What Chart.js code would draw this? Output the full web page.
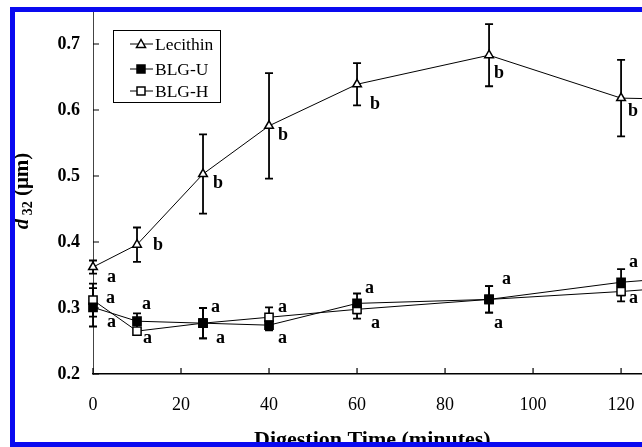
<!DOCTYPE html>
<html>
<head>
<meta charset="utf-8">
<script src="https://cdn.jsdelivr.net/npm/chart.js@4"></script>
<style>
  html, body { margin: 0; padding: 0; background: #fff; width: 642px; height: 447px; overflow: hidden; }
  #wrap { position: absolute; left: 0; top: 0; width: 800px; height: 447px; }
  .edge { position: absolute; background: #0a0af0; }
</style>
</head>
<body>
<div id="wrap"><canvas id="chart"></canvas></div>
<div class="edge" style="left:10px; top:7px; width:640px; height:5px"></div>
<div class="edge" style="left:10px; top:7px; width:5px; height:440px"></div>
<div class="edge" style="left:10px; top:442px; width:640px; height:5px"></div>
<script>
'use strict'

// digestion time (minutes)
const times = [0, 10, 25, 40, 60, 90, 120, 180]

const lecithinMean = [0.362, 0.396, 0.503, 0.576, 0.639, 0.683, 0.618, 0.61]
const lecithinSd = [0.010, 0.026, 0.060, 0.080, 0.032, 0.047, 0.058, 0.05]
const lecithinLetters = ['a', 'b', 'b', 'b', 'b', 'b', 'b', '']

const blgUMean = [0.301, 0.280, 0.277, 0.274, 0.307, 0.313, 0.339, 0.37]
const blgUSd = [0.029, 0.012, 0.023, 0.008, 0.015, 0.020, 0.020, 0.02]
const blgULetters = ['a', 'a', 'a', 'a', 'a', 'a', 'a', '']

const blgHMean = [0.312, 0.265, 0.277, 0.286, 0.298, 0.313, 0.325, 0.355]
const blgHSd = [0.025, 0.004, 0.023, 0.015, 0.014, 0.020, 0.015, 0.02]
const blgHLetters = ['a', 'a', 'a', 'a', 'a', 'a', 'a', '']

const seriesNames = ['Lecithin', 'BLG-U', 'BLG-H']
const xTicks = [0, 20, 40, 60, 80, 100, 120, 140]
const yTicks = [0.2, 0.3, 0.4, 0.5, 0.6, 0.7]

// letter placement relative to the marker (px)
const letterOffsets = [
  [[14, 10], [16, 1], [10, 9], [9, 10], [13, 20], [5, 18], [7, 13], [0, 0]],
  [[14, 15], [5, -17], [8, -16], [9, 13], [8, -15], [13, -20], [8, -20], [0, 0]],
  [[13, -2], [6, 7], [13, 15], [9, -10], [14, 14], [5, 24], [8, 7], [0, 0]]
]

const FONT = 'Liberation Serif'

function toPoints (means) {
  return times.map((t, i) => ({ x: t, y: means[i] }))
}

const sds = [lecithinSd, blgUSd, blgHSd]
const means = [lecithinMean, blgUMean, blgHMean]
const letters = [lecithinLetters, blgULetters, blgHLetters]

const extras = {
  id: 'extras',
  beforeDatasetsDraw (chart) {
    const { ctx, scales: { x, y } } = chart
    ctx.save()
    ctx.strokeStyle = '#000'
    ctx.lineWidth = 1.8
    sds.forEach((sd, d) => {
      times.forEach((t, i) => {
        const px = x.getPixelForValue(t)
        const top = y.getPixelForValue(means[d][i] + sd[i])
        const bot = y.getPixelForValue(means[d][i] - sd[i])
        ctx.beginPath()
        ctx.moveTo(px, top); ctx.lineTo(px, bot)
        ctx.moveTo(px - 4, top); ctx.lineTo(px + 4, top)
        ctx.moveTo(px - 4, bot); ctx.lineTo(px + 4, bot)
        ctx.stroke()
      })
    })
    // inward tick marks
    ctx.lineWidth = 1.2
    ctx.beginPath()
    xTicks.forEach(v => {
      const px = x.getPixelForValue(v)
      ctx.moveTo(px, y.bottom); ctx.lineTo(px, y.bottom - 6)
    })
    yTicks.forEach(v => {
      const py = y.getPixelForValue(v)
      ctx.moveTo(x.left, py); ctx.lineTo(x.left + 6, py)
    })
    ctx.stroke()
    ctx.restore()
  },
  afterDraw (chart) {
    const { ctx, scales: { x, y } } = chart
    ctx.save()
    // significance letters
    ctx.fillStyle = '#000'
    ctx.font = 'bold 18px "' + FONT + '"'
    ctx.textAlign = 'left'
    ctx.textBaseline = 'middle'
    letters.forEach((ls, d) => {
      ls.forEach((l, i) => {
        if (!l) return
        const px = x.getPixelForValue(times[i]) + letterOffsets[d][i][0]
        const py = y.getPixelForValue(means[d][i]) + letterOffsets[d][i][1]
        ctx.fillText(l, px, py)
      })
    })

    // legend box
    ctx.lineWidth = 1
    ctx.strokeStyle = '#000'
    ctx.strokeRect(113.5, 30.5, 107, 72)
    const rows = [44, 69, 91]
    chart.data.datasets.forEach((ds, d) => {
      const ry = rows[d]
      ctx.lineWidth = 1
      ctx.beginPath()
      ctx.moveTo(130, ry); ctx.lineTo(153, ry)
      ctx.stroke()
      ctx.fillStyle = ds.pointBackgroundColor
      ctx.lineWidth = 1.5
      ctx.beginPath()
      if (ds.pointStyle === 'rect') {
        ctx.rect(137, ry - 4, 8, 8)
      } else {
        ctx.moveTo(141, ry - 4.5); ctx.lineTo(145.5, ry + 3.5); ctx.lineTo(136.5, ry + 3.5); ctx.closePath()
      }
      ctx.fill(); ctx.stroke()
      ctx.fillStyle = '#000'
      ctx.font = '17.5px "' + FONT + '"'
      ctx.fillText(ds.label, 155, ry + 1)
    })

    // x title
    ctx.font = 'bold 22px "' + FONT + '"'
    ctx.textBaseline = 'alphabetic'
    ctx.fillText('Digestion Time (minutes)', 254, 446)

    // y title: d 32 (μm), rotated
    ctx.translate(28, 191)
    ctx.rotate(-Math.PI / 2)
    const parts = [
      { t: 'd', f: 'bold italic 21px "' + FONT + '"', dy: 0 },
      { t: ' 32', f: 'bold 14px "' + FONT + '"', dy: 4 },
      { t: ' (μm)', f: 'bold 21px "' + FONT + '"', dy: 0 }
    ]
    let total = 0
    parts.forEach(p => { ctx.font = p.f; total += ctx.measureText(p.t).width })
    let cx = -total / 2
    parts.forEach(p => {
      ctx.font = p.f
      ctx.fillText(p.t, cx, p.dy)
      cx += ctx.measureText(p.t).width
    })
    ctx.restore()
  }
}

const markerStyles = ['triangle', 'rect', 'rect']
const markerFills = ['#fff', '#000', '#fff']
const seriesMeans = [lecithinMean, blgUMean, blgHMean]

new Chart(document.getElementById('chart'), {
  type: 'line',
  data: {
    datasets: seriesNames.map((name, d) => ({
      label: name,
      data: toPoints(seriesMeans[d]),
      borderColor: '#000',
      borderWidth: 1,
      tension: 0,
      pointStyle: markerStyles[d],
      pointRadius: markerStyles[d] === 'rect' ? 5.8 : 5,
      pointBackgroundColor: markerFills[d],
      pointBorderColor: '#000',
      pointBorderWidth: 1.5,
      clip: false
    }))
  },
  plugins: [extras],
  options: {
    responsive: true,
    maintainAspectRatio: false,
    animation: false,
    layout: { padding: { top: 11, left: 0, right: 0, bottom: 0 } },
    plugins: {
      legend: { display: false },
      tooltip: { enabled: false }
    },
    scales: {
      x: {
        type: 'linear',
        min: 0,
        max: 159,
        afterBuildTicks: s => { s.ticks = xTicks.map(v => ({ value: v })) },
        afterFit: s => { s.height = 73 },
        grid: { display: false, drawTicks: false },
        border: { display: true, color: '#000', width: 1.5 },
        ticks: {
          autoSkip: false,
          maxRotation: 0,
          padding: 20,
          color: '#000',
          font: { family: FONT, size: 18 }
        }
      },
      y: {
        min: 0.2,
        max: 0.75,
        afterBuildTicks: s => { s.ticks = yTicks.map(v => ({ value: v })) },
        afterFit: s => { s.width = 93; s.paddingTop = 0; s.paddingBottom = 0 },
        grid: { display: false, drawTicks: false },
        border: { display: true, color: '#444', width: 1 },
        ticks: {
          padding: 13,
          color: '#000',
          font: { family: FONT, size: 18, weight: 'bold' },
          callback: v => v.toFixed(1)
        }
      }
    }
  }
})
</script>
</body>
</html>
